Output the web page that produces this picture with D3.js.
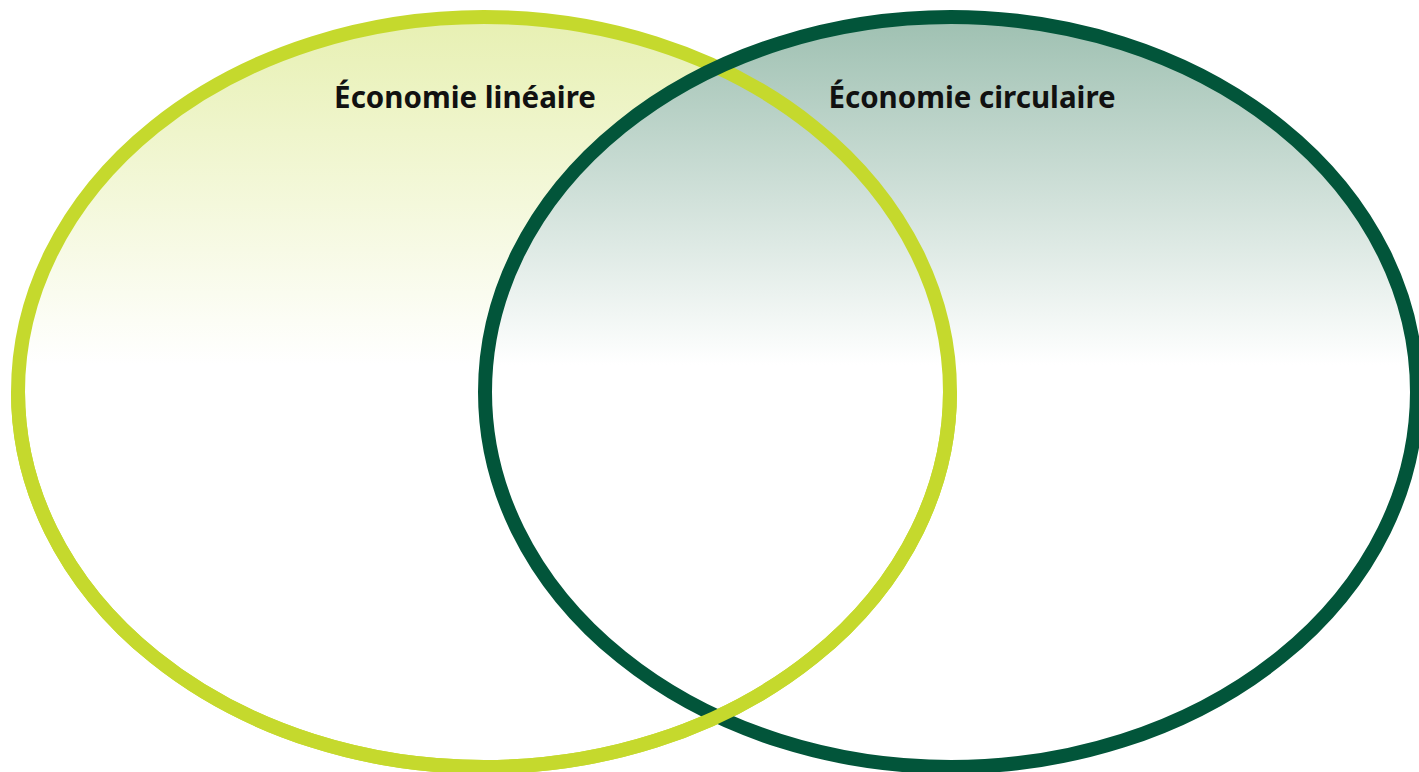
<!DOCTYPE html>
<html>
<head>
<meta charset="utf-8">
<script src="https://cdn.jsdelivr.net/npm/d3@7"></script>
<style>
  html, body { margin: 0; padding: 0; background: #ffffff; overflow: hidden; }
  svg { display: block; }
</style>
</head>
<body>
<svg id="chart" width="1419" height="772"></svg>
<script>
// Data
const categories = ["Économie linéaire", "Économie circulaire"];
const setIndex = [0, 1];
const strokeColors = ["#c5d92d", "#02553a"];
const topColors = ["#e7f0b2", "#9ec0b1"];

const W = 1419, H = 772;
const svg = d3.select("#chart");

const x = d3.scaleLinear().domain([0, 1]).range([484, 951]);
const cy = 392, rx = 466, ry = 375, sw = 14;

const defs = svg.append("defs");
categories.forEach((c, i) => {
  const g = defs.append("linearGradient")
    .attr("id", "grad" + i)
    .attr("gradientUnits", "userSpaceOnUse")
    .attr("x1", 0).attr("y1", cy - ry).attr("x2", 0).attr("y2", 365);
  g.append("stop").attr("offset", 0).attr("stop-color", topColors[i]);
  g.append("stop").attr("offset", 1).attr("stop-color", "#ffffff");
});
defs.append("clipPath").attr("id", "bottomClip")
  .append("rect").attr("x", 0).attr("y", cy).attr("width", W).attr("height", H - cy);

// fills
svg.selectAll("ellipse.fill").data(setIndex).join("ellipse")
  .attr("class", "fill")
  .attr("cx", d => x(d)).attr("cy", cy).attr("rx", rx).attr("ry", ry)
  .attr("fill", d => `url(#grad${d})`);

// strokes
svg.selectAll("ellipse.ring").data(setIndex).join("ellipse")
  .attr("class", "ring")
  .attr("cx", d => x(d)).attr("cy", cy).attr("rx", rx).attr("ry", ry)
  .attr("fill", "none")
  .attr("stroke", d => strokeColors[d]).attr("stroke-width", sw);

// weave: linear ring over circular ring at the bottom crossing
svg.append("ellipse")
  .attr("cx", x(0)).attr("cy", cy).attr("rx", rx).attr("ry", ry)
  .attr("fill", "none").attr("stroke", strokeColors[0]).attr("stroke-width", sw)
  .attr("clip-path", "url(#bottomClip)");

// labels
const labelX = [465, 972];
svg.selectAll("text.label").data(setIndex).join("text")
  .attr("class", "label")
  .attr("x", d => labelX[d]).attr("y", 108)
  .attr("text-anchor", "middle")
  .attr("font-family", "'Noto Sans', 'Open Sans', sans-serif")
  .attr("font-weight", "bold")
  .attr("font-size", 29.5)
  .attr("fill", "#111111")
  .text(d => categories[d]);
</script>
</body>
</html>
